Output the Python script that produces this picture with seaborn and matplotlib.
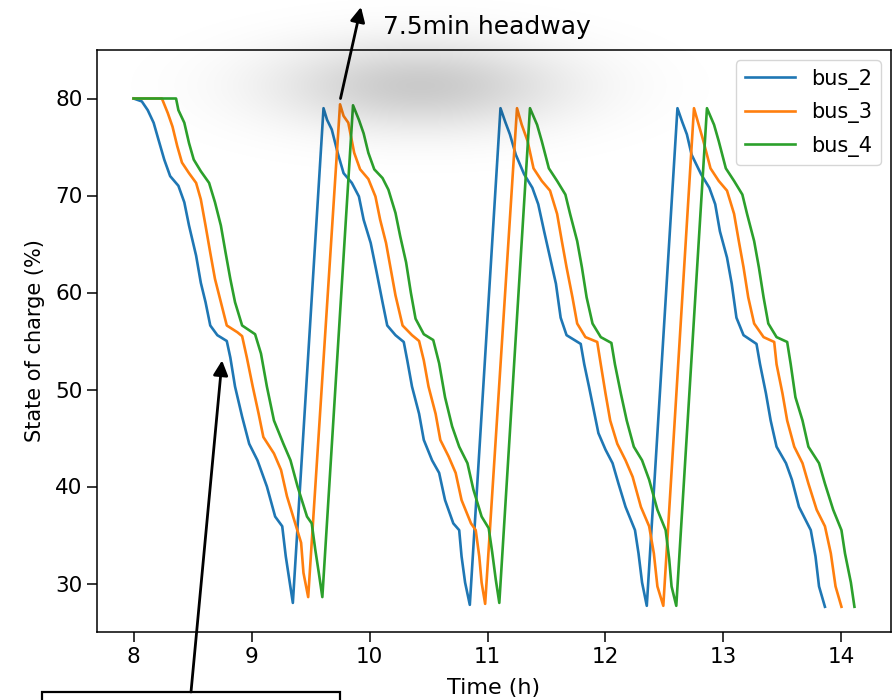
import numpy as np
import pandas as pd
import matplotlib
matplotlib.use("Agg")
import matplotlib.pyplot as plt
from matplotlib.patches import Rectangle
import seaborn as sns

# ---------------- data ----------------
bus2_t = [8.00, 8.07, 8.12, 8.17, 8.21, 8.26, 8.31, 8.38, 8.43, 8.47, 8.53, 8.57, 8.61, 8.65, 8.71, 8.79,
          8.82, 8.86, 8.92, 8.98, 9.05, 9.13, 9.20, 9.26, 9.29, 9.32, 9.35,
          9.61, 9.64, 9.68, 9.73, 9.78, 9.85, 9.91, 9.95, 10.01, 10.06, 10.11, 10.15, 10.22, 10.29,
          10.32, 10.36, 10.42, 10.46, 10.53, 10.59, 10.64, 10.71, 10.76, 10.78, 10.81, 10.85,
          11.11, 11.15, 11.19, 11.24, 11.31, 11.38, 11.43, 11.48, 11.53, 11.58, 11.62, 11.67, 11.79,
          11.82, 11.86, 11.90, 11.94, 12.00, 12.06, 12.11, 12.17, 12.25, 12.28, 12.31, 12.35,
          12.61, 12.65, 12.69, 12.73, 12.81, 12.88, 12.93, 12.97, 13.03, 13.07, 13.11, 13.17, 13.28,
          13.31, 13.36, 13.40, 13.45, 13.53, 13.58, 13.64, 13.74, 13.78, 13.81, 13.86]
bus2_soc = [80.0, 79.7, 78.8, 77.5, 75.8, 73.7, 72.0, 71.0, 69.3, 66.9, 63.8, 61.0, 59.0, 56.6, 55.6, 55.0,
            53.3, 50.3, 47.2, 44.4, 42.7, 40.0, 36.9, 35.9, 32.8, 30.4, 28.0,
            79.0, 77.8, 76.8, 74.4, 72.3, 71.3, 69.9, 67.5, 65.1, 62.1, 59.0, 56.6, 55.6, 54.9,
            53.0, 50.3, 47.5, 44.8, 42.7, 41.4, 38.6, 36.2, 35.5, 32.8, 30.1, 27.8,
            79.0, 77.6, 76.3, 74.2, 72.2, 70.8, 69.1, 66.3, 63.6, 60.9, 57.4, 55.6, 54.7,
            52.6, 50.3, 47.9, 45.5, 43.8, 42.4, 40.3, 37.9, 35.5, 33.1, 30.1, 27.7,
            79.0, 77.6, 76.3, 74.2, 72.2, 70.8, 69.1, 66.3, 63.6, 60.9, 57.4, 55.6, 54.7,
            52.6, 49.6, 46.8, 44.1, 42.4, 40.7, 37.9, 35.5, 32.8, 29.7, 27.6]

bus3_t = [8.00, 8.24, 8.29, 8.33, 8.37, 8.41, 8.47, 8.53, 8.57, 8.61, 8.65, 8.69, 8.74, 8.79, 8.88, 8.92,
          8.96, 9.01, 9.06, 9.10, 9.19, 9.25, 9.30, 9.37, 9.42, 9.44, 9.48,
          9.75, 9.78, 9.82, 9.87, 9.92, 9.99, 10.05, 10.09, 10.14, 10.18, 10.22, 10.28, 10.36, 10.42,
          10.46, 10.50, 10.56, 10.60, 10.67, 10.73, 10.78, 10.86, 10.90, 10.93, 10.95, 10.98,
          11.25, 11.29, 11.34, 11.39, 11.46, 11.53, 11.59, 11.63, 11.67, 11.72, 11.76, 11.83, 11.93,
          11.96, 12.00, 12.04, 12.10, 12.17, 12.23, 12.30, 12.37, 12.41, 12.44, 12.49,
          12.75, 12.79, 12.83, 12.89, 12.96, 13.03, 13.09, 13.13, 13.17, 13.21, 13.26, 13.34, 13.43,
          13.45, 13.50, 13.54, 13.60, 13.67, 13.72, 13.79, 13.86, 13.91, 13.95, 14.00]
bus3_soc = [80.0, 80.0, 78.5, 77.1, 75.1, 73.4, 72.3, 71.3, 69.6, 66.9, 64.1, 61.4, 59.0, 56.6, 55.9, 55.5,
            53.3, 50.3, 47.5, 45.1, 43.4, 41.7, 39.0, 36.2, 34.2, 31.1, 28.6,
            79.4, 78.2, 77.5, 74.4, 72.7, 71.7, 69.9, 67.5, 65.1, 62.4, 59.7, 56.6, 55.6, 55.0,
            53.0, 50.3, 47.5, 44.8, 43.1, 41.4, 38.6, 36.2, 35.5, 32.8, 30.1, 27.9,
            79.0, 77.3, 75.6, 72.8, 71.5, 70.5, 68.1, 65.3, 62.6, 59.5, 56.8, 55.4, 54.9,
            52.6, 49.6, 46.8, 44.4, 42.7, 41.0, 37.9, 35.9, 33.1, 29.7, 27.7,
            79.0, 77.3, 75.6, 72.8, 71.5, 70.5, 68.1, 65.3, 62.6, 59.5, 56.8, 55.4, 54.9,
            52.6, 49.6, 46.8, 44.1, 42.4, 40.3, 37.6, 35.9, 33.1, 29.7, 27.6]

bus4_t = [8.00, 8.36, 8.38, 8.43, 8.47, 8.51, 8.57, 8.64, 8.69, 8.74, 8.78, 8.82, 8.86, 8.92, 9.03,
          9.08, 9.13, 9.19, 9.27, 9.33, 9.39, 9.47, 9.51, 9.54, 9.57, 9.60,
          9.86, 9.91, 9.95, 9.99, 10.04, 10.11, 10.16, 10.22, 10.26, 10.31, 10.35, 10.39, 10.46, 10.54,
          10.59, 10.64, 10.70, 10.76, 10.83, 10.88, 10.95, 11.01, 11.04, 11.07, 11.10,
          11.36, 11.42, 11.46, 11.52, 11.59, 11.66, 11.70, 11.76, 11.80, 11.84, 11.89, 11.96, 12.05,
          12.08, 12.13, 12.18, 12.24, 12.31, 12.37, 12.44, 12.51, 12.54, 12.56, 12.60,
          12.86, 12.92, 12.96, 13.02, 13.09, 13.16, 13.20, 13.26, 13.30, 13.34, 13.38, 13.45, 13.54,
          13.57, 13.61, 13.67, 13.72, 13.81, 13.86, 13.93, 14.00, 14.03, 14.08, 14.11]
bus4_soc = [80.0, 80.0, 78.8, 77.5, 75.4, 73.7, 72.5, 71.3, 69.3, 66.9, 64.1, 61.4, 59.0, 56.6, 55.7,
            53.7, 50.3, 46.8, 44.4, 42.7, 40.0, 36.9, 36.2, 33.5, 31.1, 28.6,
            79.3, 77.8, 76.4, 74.4, 72.7, 71.8, 70.6, 68.2, 65.8, 63.1, 60.0, 57.3, 55.7, 55.1,
            52.7, 49.2, 46.2, 44.1, 42.4, 39.7, 36.9, 35.7, 33.2, 30.4, 28.0,
            79.0, 77.3, 75.6, 72.8, 71.5, 70.1, 68.1, 65.3, 62.6, 59.5, 56.8, 55.4, 54.8,
            52.6, 49.6, 46.8, 44.1, 42.7, 40.7, 37.6, 35.5, 32.5, 29.7, 27.7,
            79.0, 77.3, 75.6, 72.8, 71.5, 70.1, 68.1, 65.3, 62.6, 59.5, 56.8, 55.4, 54.9,
            52.6, 49.2, 46.8, 44.1, 42.4, 40.3, 37.6, 35.5, 33.1, 30.1, 27.6]

bus_names = ["bus_2", "bus_3", "bus_4"]
x_ticks = [8, 9, 10, 11, 12, 13, 14]
y_ticks = [30, 40, 50, 60, 70, 80]
headway_text = "7.5min headway"

# ---------------- build long-form table ----------------
frames = []
for name, t, s in zip(bus_names, [bus2_t, bus3_t, bus4_t], [bus2_soc, bus3_soc, bus4_soc]):
    frames.append(pd.DataFrame({"time": t, "soc": s, "bus": name}))
df = pd.concat(frames, ignore_index=True)

W, H = 893, 700
fig = plt.figure(figsize=(W / 100, H / 100), dpi=100)
fig.patch.set_facecolor("white")
ax = fig.add_axes([97 / W, 1 - 632 / H, (891 - 97) / W, (632 - 50) / H])
ax.patch.set_alpha(0.0)

palette = ["#1f77b4", "#ff7f0e", "#2ca02c"]
sns.lineplot(data=df, x="time", y="soc", hue="bus", hue_order=bus_names, palette=palette,
             sort=False, estimator=None, units="bus", linewidth=1.9, ax=ax)

ax.set_ylim(25, 85)
ax.set_xlim(7.69, 14.42)
ax.set_xticks(x_ticks)
ax.set_yticks(y_ticks)
ax.tick_params(axis="both", labelsize=15.5, length=7, width=1.1)
ax.tick_params(axis="x", pad=4)
ax.tick_params(axis="y", pad=3.5)
for sp in ax.spines.values():
    sp.set_linewidth(1.1)
ax.set_xlabel("Time (h)", fontsize=16, labelpad=8)
ax.set_ylabel("State of charge (%)", fontsize=15, labelpad=7)

handles, labels = ax.get_legend_handles_labels()
ax.legend(handles, labels, loc="upper right", fontsize=15, handlelength=2.4,
          labelspacing=0.6, borderaxespad=0.5)

# ---------------- soft grey glow behind the peaks ----------------
gw, gh = W, 240
yy, xx = np.mgrid[0:gh, 0:gw]
cx, cy = 420.0, 85.0
r2 = ((xx - cx) / 145.0) ** 2 + ((yy - cy) / 44.0) ** 2
glow = np.zeros((gh, gw, 4))
glow[..., 3] = 0.21 * np.exp(-r2)
fig.figimage(glow, xo=0, yo=H - gh, origin="upper", zorder=0)

# ---------------- annotations ----------------
fig.text(383 / W, 1 - 27 / H, headway_text, fontsize=18, ha="left", va="center")
ax.annotate("", xy=(361 / W, 1 - 7 / H), xycoords="figure fraction",
            xytext=(9.754, 80.0), textcoords="data",
            arrowprops=dict(arrowstyle="-|>", color="black", lw=2.0,
                            mutation_scale=22, shrinkA=0, shrinkB=0),
            annotation_clip=False)

ax.annotate("", xy=(8.75, 53.0), xycoords="data",
            xytext=(191 / W, 8 / H), textcoords="figure fraction",
            arrowprops=dict(arrowstyle="-|>", color="black", lw=2.0,
                            mutation_scale=22, shrinkA=0, shrinkB=0),
            annotation_clip=False)
box = Rectangle((42 / W, -0.05), (340 - 42) / W, 0.05 + 8 / H, transform=fig.transFigure,
                fill=False, edgecolor="black", linewidth=1.6, clip_on=False)
fig.patches.append(box)

fig.savefig("out.png", dpi=100)
